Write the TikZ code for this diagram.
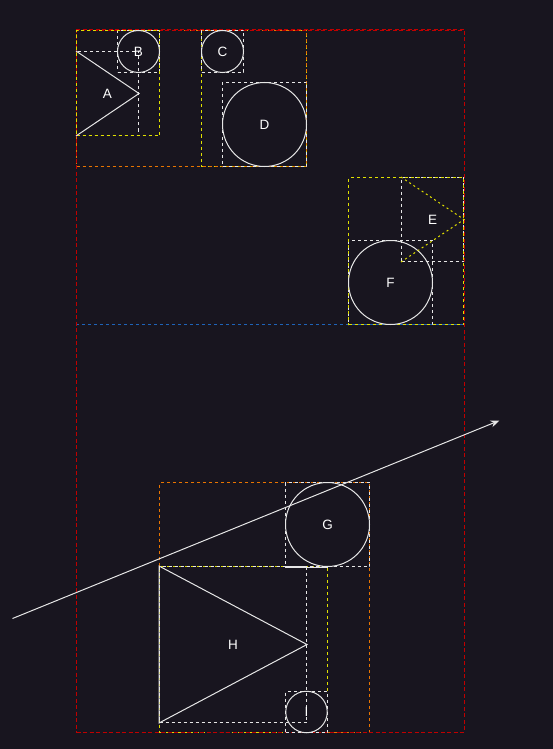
\documentclass[tikz,border=0pt]{standalone}
\usepackage{fontspec}
\setmainfont{Liberation Sans}
\usetikzlibrary{arrows.meta,fit}
\definecolor{bg}{HTML}{18151F}
\definecolor{cred}{HTML}{C00000}
\definecolor{cblue}{HTML}{1E63B8}
\definecolor{corange}{HTML}{E87400}
\definecolor{cyellow}{HTML}{E0E000}
\definecolor{cwhite}{HTML}{E6E6E6}
\tikzset{
  frame/.style={draw=#1, dash pattern=on 3pt off 3pt, line width=1pt, rectangle, inner sep=0pt},
  dline/.style={draw=#1, dash pattern=on 3pt off 3pt, line width=1pt},
  redframe/.style={draw=cred, dash pattern=on 4pt off 2.5pt, line width=1pt, rectangle, inner sep=0pt},
  wbox/.style={draw=cwhite, dash pattern=on 3pt off 3pt, line width=1pt, rectangle, inner sep=0pt},
  lbl/.style={text=white, inner sep=0pt, font=\fontsize{13.5}{15}\selectfont},
  ring/.style={draw=cwhite, line width=1pt, circle, inner sep=0pt, minimum size=#1},
  solidw/.style={draw=cwhite, line width=1pt},
}
\begin{document}
\begin{tikzpicture}[x=1pt,y=-1pt]
\fill[bg] (0,0) rectangle (553,749);
\useasboundingbox (0,0) rectangle (553,749);
\begin{scope}[shift={(0.5,0.5)}]
% coloured frames
\node[inner sep=0pt, fit={(76,30) (463,324)}] (blue) {};
\draw[dline=cblue] (blue.south west) -- (blue.south east);
\node[frame=cyellow, fit={(201,30) (306,166)}] (yCD) {};
\node[frame=corange, fit={(76,30) (306,166)}] (otop) {};
\node[frame=corange, fit={(159,482) (369,732)}] (obot) {};
\node[frame=cyellow, fit={(159,566) (327,732)}] (yHI) {};
\node[redframe, fit={(76,30) (463.5,732)}] (outer) {};
% white boxes
\node[wbox, fit={(76,51) (138,135)}] (Abox) {};
\node[wbox, fit={(117,30) (159,72)}] (Bbox) {};
\node[wbox, fit={(201,30) (243,72)}] (Cbox) {};
\node[wbox, fit={(222,82) (306,166)}] (Dbox) {};
\node[wbox, fit={(401,177) (463,261)}] (Ebox) {};
\node[wbox, fit={(348,240) (432,324)}] (Fbox) {};
\node[wbox, fit={(285,482) (369,566)}] (Gbox) {};
\node[wbox, fit={(159,566) (306,722)}] (Hbox) {};
\node[wbox, fit={(285,691) (327,732)}] (Ibox) {};
% yellow frames
\node[frame=cyellow, fit={(76,30) (159,135)}] (yAB) {};
\node[frame=cyellow, fit={(348,177) (463,324)}] (yEF) {};
% red top edge over the yellow frames
\draw[draw=cred, dash pattern=on 4pt off 2.5pt, line width=1pt] (outer.north west) -- (outer.north east);
% circles
\node[ring=42pt] (B) at (Bbox.center) {};
\node[ring=42pt] (C) at (Cbox.center) {};
\node[ring=84pt] (D) at (Dbox.center) {};
\node[ring=84pt] (F) at (Fbox.center) {};
\node[ring=84pt] (G) at (Gbox.center) {};
\node[ring=41.5pt] (I) at (Ibox.center) {};
% triangles
\draw[solidw] (Abox.north west) -- (Abox.east) -- (Abox.south west);
\draw[draw=cyellow, dash pattern=on 2pt off 3pt, line width=1pt] (Ebox.north west) -- (Ebox.east) -- (Ebox.south west);
\draw[solidw] (Hbox.north west) -- (Hbox.east) -- (Hbox.south west) -- cycle;
\draw[solidw] (Gbox.south west) -- (G.south);
% labels
\node[lbl] (Alab) at (Abox.center) {A};
\node[lbl] (Blab) at (Bbox.center) {B};
\node[lbl] (Clab) at (Cbox.center) {C};
\node[lbl] (Dlab) at (Dbox.center) {D};
\node[lbl] (Elab) at (Ebox.center) {E};
\node[lbl] (Flab) at (Fbox.center) {F};
\node[lbl] (Glab) at (Gbox.center) {G};
\node[lbl] (Hlab) at (Hbox.center) {H};
\node[lbl] (Ilab) at (Ibox.center) {I};
% arrow
\coordinate (s) at (12,618);
\coordinate (t) at (499,420);
\draw[draw=cwhite, line width=1pt, -{Stealth[length=9pt,width=7pt]}] (s) -- (t);
\end{scope}
\end{tikzpicture}
\end{document}
